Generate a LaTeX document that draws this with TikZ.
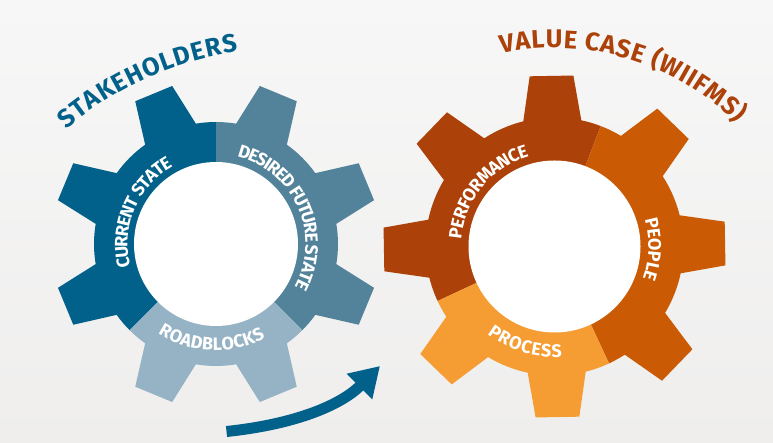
\documentclass[tikz,border=0pt]{standalone}
\usepackage{fontspec}
\setmainfont{Fira Sans}
\usetikzlibrary{decorations.text,arrows.meta}
\definecolor{bgtop}{HTML}{F7F7F7}
\definecolor{bgbot}{HTML}{EFEEED}
\definecolor{stakedark}{HTML}{02618A}
\definecolor{stakemid}{HTML}{53839A}
\definecolor{stakelight}{HTML}{95B3C4}
\definecolor{valuedark}{HTML}{AC4209}
\definecolor{valuemid}{HTML}{CA5B04}
\definecolor{valuelight}{HTML}{F59D33}
\newcommand{\labelfont}{\fontsize{18}{18}\selectfont\bfseries}
\newcommand{\titlefont}{\fontsize{25.5}{25.5}\selectfont\bfseries}
% #1 body radius, #2 tip radius, #3 first tooth angle, #4 half base angle, #5 half tip angle
\newcommand{\gearpath}[5]{(#3-#4:#1) \foreach \tooth in {0,...,7} {-- (#3+45*\tooth-#4:#1) -- (#3+45*\tooth-#5:#2) -- (#3+45*\tooth+#5:#2) -- (#3+45*\tooth+#4:#1) arc[start angle=#3+45*\tooth+#4, end angle=#3+45*\tooth+45-#4, radius=#1]} -- cycle}
\begin{document}
\begin{tikzpicture}[x=1pt,y=1pt,
  gear label/.style={decorate,decoration={text effects along path,text={#1},
    text effects/.cd,text along path,fit text to path,characters={text=white,font=\labelfont}}},
  gear title/.style n args={2}{decorate,decoration={text effects along path,text={#2},
    text effects/.cd,text along path,fit text to path,characters={text=#1,font=\titlefont}}}]
\useasboundingbox (0,0) rectangle (773,443);
\shade[top color=bgtop,bottom color=bgbot] (0,0) rectangle (773,443);
\coordinate (stake) at (216,199);
\coordinate (value) at (554.5,196.5);
\coordinate (staketitle) at (287,55);
\coordinate (valuetitle) at (554.5,138);
\coordinate (tail) at (226.5,11.5);
\coordinate (tip) at (380,77);
\begin{scope}[shift={(stake)}]
\foreach \from/\to/\col in {90/225/stakedark,-45/90/stakemid,225/315/stakelight}
  {\begin{scope}
   \clip (0,0) -- (\from:200) arc[start angle=\from,end angle=\to,radius=200] -- cycle;
   \fill[\col] \gearpath{122}{164}{22.5}{13}{7};
   \end{scope}}
\fill[white] (0,0) circle[radius=82];
\path[gear label=CURRENT STATE] (195:88.5) arc[start angle=195,end angle=119,radius=88.5];
\path[gear label=DESIRED FUTURE STATE] (76.4:89.5) arc[start angle=76.4,end angle=-28.8,radius=89.5];
\path[gear label=ROADBLOCKS] (237:106.5) arc[start angle=237,end angle=297.7,radius=106.5];
\end{scope}
\begin{scope}[shift={(value)}]
\foreach \from/\to/\col in {69/205/valuedark,-65/69/valuemid,205/295/valuelight}
  {\begin{scope}
   \clip (0,0) -- (\from:210) arc[start angle=\from,end angle=\to,radius=210] -- cycle;
   \fill[\col] \gearpath{129}{172}{91}{13}{7.3};
   \end{scope}}
\fill[white] (0,0) circle[radius=86];
\path[gear label=PERFORMANCE] (175.6:93.5) arc[start angle=175.6,end angle=105.8,radius=93.5];
\path[gear label=PEOPLE] (16.5:94) arc[start angle=16.5,end angle=-20.1,radius=94];
\path[gear label=PROCESS] (232.5:110.5) arc[start angle=232.5,end angle=273.9,radius=110.5];
\end{scope}
\path[shift={(staketitle)},gear title={stakedark}{STAKEHOLDERS}]
  (130.5:340) arc[start angle=130.5,end angle=98.3,radius=340];
\path[shift={(valuetitle)},gear title={valuedark}{VALUE CASE (WIIFMS)}]
  (102:257) arc[start angle=102,end angle=44.9,radius=257];
\draw[stakedark,line width=11pt,-{Triangle[width=34pt,length=29pt]}] (tail) .. controls +(6:70) and +(225:55) .. (tip);
\end{tikzpicture}
\end{document}
